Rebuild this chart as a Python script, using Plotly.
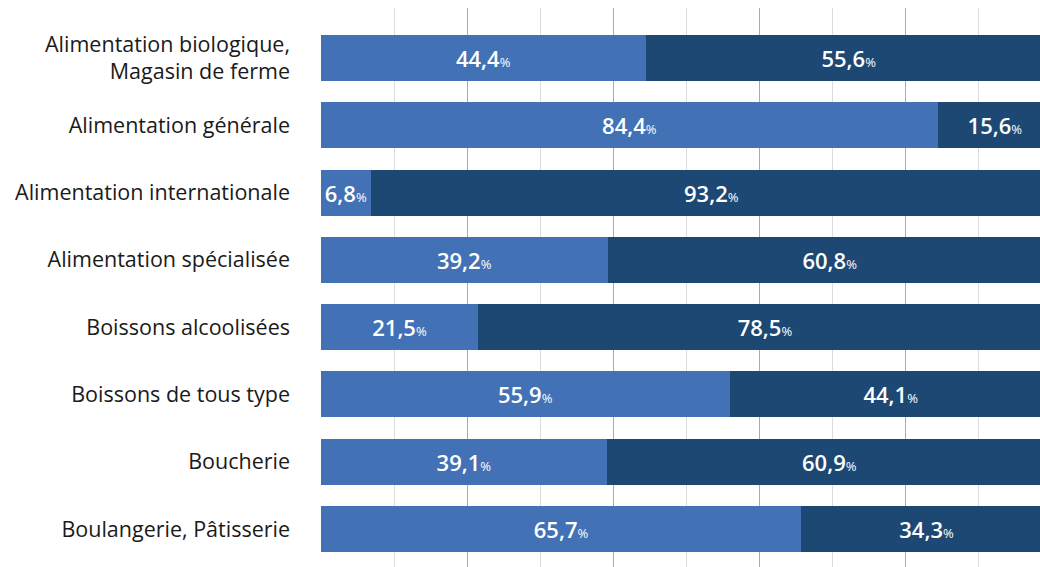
import plotly.graph_objects as go

categories = [
    "Alimentation biologique,<br>Magasin de ferme",
    "Alimentation générale",
    "Alimentation internationale",
    "Alimentation spécialisée",
    "Boissons alcoolisées",
    "Boissons de tous type",
    "Boucherie",
    "Boulangerie, Pâtisserie",
]
series_a = [44.4, 84.4, 6.8, 39.2, 21.5, 55.9, 39.1, 65.7]
series_b = [55.6, 15.6, 93.2, 60.8, 78.5, 44.1, 60.9, 34.3]

color_a = "#4371B5"
color_b = "#1D4873"


def labels(vals):
    return [
        f"{v:.1f}".replace(".", ",") + "<span style='font-size:13px;font-weight:500'>%</span>"
        for v in vals
    ]


fig = go.Figure()
for vals, col in [(series_a, color_a), (series_b, color_b)]:
    fig.add_trace(go.Bar(
        y=categories, x=vals, orientation="h",
        marker=dict(color=col, line=dict(width=0)),
        width=0.684,
        text=labels(vals), textposition="inside", insidetextanchor="middle",
        textfont=dict(color="white", size=22, family="Open Sans", weight=600),
        constraintext="none",
        hoverinfo="skip",
    ))

fig.update_layout(
    barmode="stack",
    width=1040, height=567,
    margin=dict(l=321, r=0, t=8, b=0),
    paper_bgcolor="white", plot_bgcolor="white",
    showlegend=False,
    font=dict(family="Open Sans", size=21.5, color="#1a1a1a"),
)
fig.update_xaxes(
    range=[0, 98.36], showticklabels=False, zeroline=False,
    showgrid=True, dtick=20, tick0=0, gridcolor="#ABABAB", gridwidth=1,
    minor=dict(dtick=10, tick0=0, showgrid=True, gridcolor="#DCDCDC", gridwidth=1),
    fixedrange=True,
)
fig.update_yaxes(
    range=[7.565, -0.743], showgrid=False, zeroline=False,
    ticks="", ticklabelstandoff=30, categoryorder="array", categoryarray=categories,
)
fig.write_html("out.html")
